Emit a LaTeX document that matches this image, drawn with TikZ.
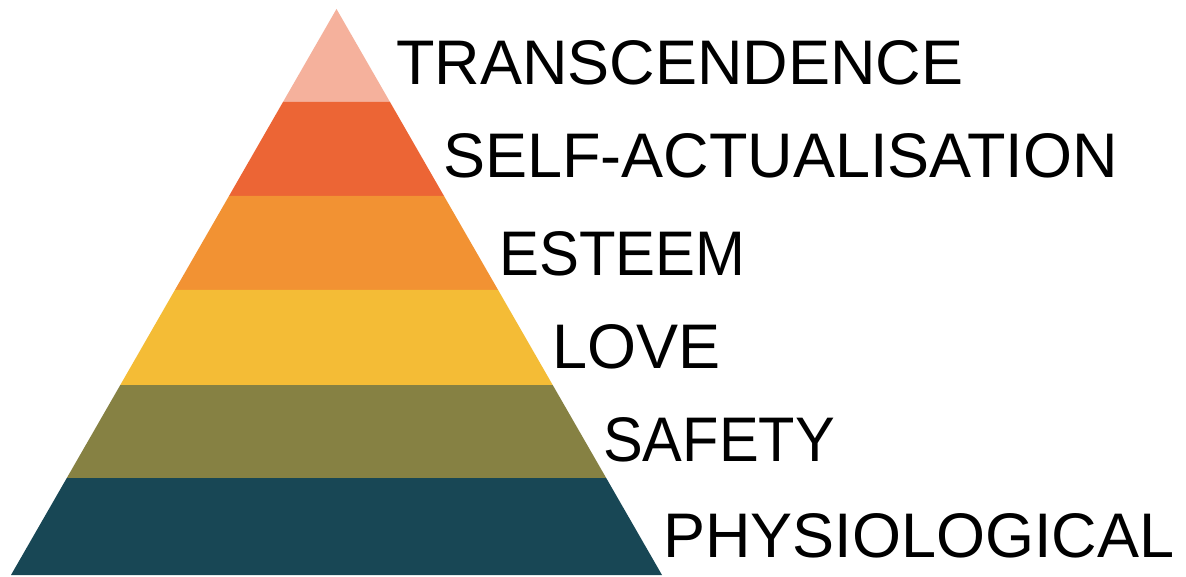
\documentclass[tikz,border=0pt]{standalone}
\usepackage{fontspec}
\setmainfont{Liberation Sans}
\definecolor{cTrans}{HTML}{F5B19C}
\definecolor{cSelf}{HTML}{EC6535}
\definecolor{cEsteem}{HTML}{F29233}
\definecolor{cLove}{HTML}{F4BC36}
\definecolor{cSafety}{HTML}{868143}
\definecolor{cPhys}{HTML}{184755}
\begin{document}
\begin{tikzpicture}[x=1pt,y=-1pt,
  lvl/.style={anchor=base west,inner sep=0pt,font=\fontsize{63}{70}\selectfont,text=black}]
\useasboundingbox[fill=white] (0,0) rectangle (1186,577);
% bands
\fill[cTrans]  (336.5,9) -- (390,102) -- (283,102) -- cycle;
\fill[cSelf]   (283,102) -- (390,102) -- (444,196) -- (229,196) -- cycle;
\fill[cEsteem] (229,196) -- (444,196) -- (498.1,290) -- (174.9,290) -- cycle;
\fill[cLove]   (174.9,290) -- (498.1,290) -- (552.7,385) -- (120.3,385) -- cycle;
\fill[cSafety] (120.3,385) -- (552.7,385) -- (606.2,478) -- (66.8,478) -- cycle;
\fill[cPhys]   (66.8,478) -- (606.2,478) -- (662,575) -- (11,575) -- cycle;
% labels
\node[lvl] (trans) at (396,85) {TRANSCENDENCE};
\node[lvl] (self) at (443,178) {SELF-ACTUALISATION};
\node[lvl] (esteem) at (499,276) {\scalebox{0.95}[1]{ESTEEM}};
\node[lvl] (love) at (552,368) {LOVE};
\node[lvl] (safety) at (603,461) {\scalebox{0.945}[1]{SAFETY}};
\node[lvl] (phys) at (663,557) {PHYSIOLOGICAL};
\end{tikzpicture}
\end{document}
